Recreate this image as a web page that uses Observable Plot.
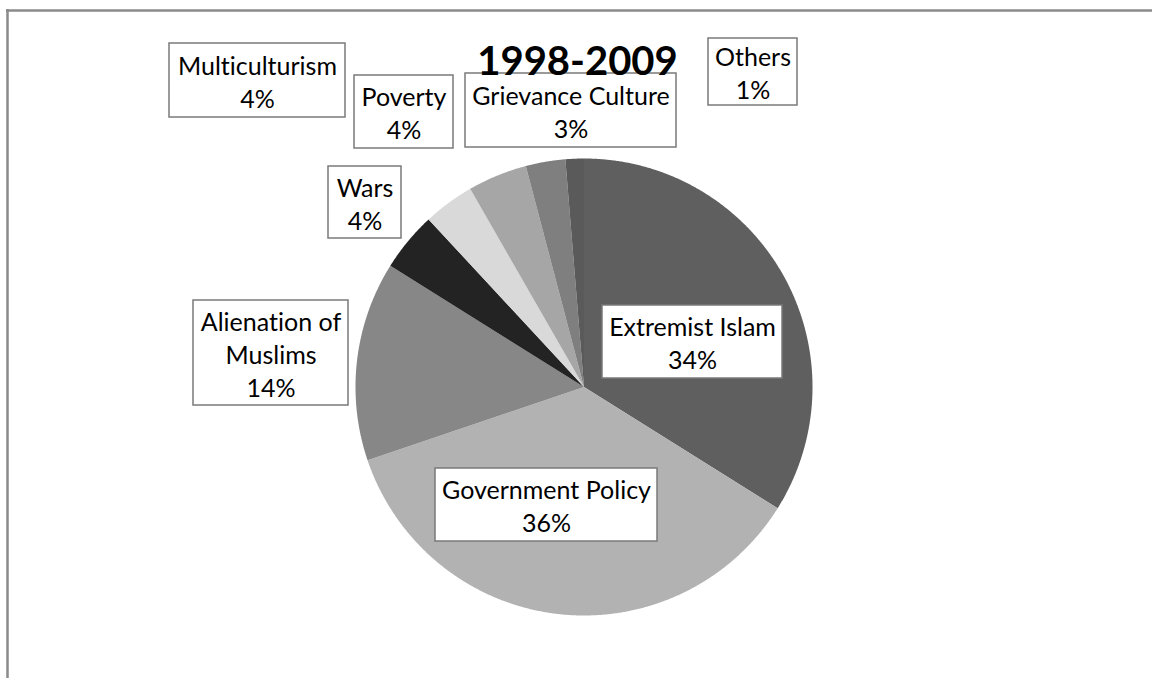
<!DOCTYPE html>
<html>
<head>
<meta charset="utf-8">
<script src="https://cdn.jsdelivr.net/npm/d3@7"></script>
<script src="https://cdn.jsdelivr.net/npm/@observablehq/plot@0.6"></script>
<style>
  html, body { margin: 0; padding: 0; background: #fff; }
  #chart svg { display: block; }
  #chart text { font-variant-ligatures: none; font-feature-settings: "liga" 0; }
</style>
</head>
<body>
<div id="chart"></div>
<script>
// ---- data ----
const title = "1998-2009";
const categories = ["Extremist Islam", "Government Policy", "Alienation of Muslims", "Wars", "Multiculturism", "Poverty", "Grievance Culture", "Others"];
const displayNames = ["Extremist Islam", "Government Policy", "Alienation of\nMuslims", "Wars", "Multiculturism", "Poverty", "Grievance Culture", "Others"];
const shares = [33.9, 35.9, 14.1, 4.2, 3.6, 4.2, 2.8, 1.3];

// ---- styles / layout ----
const sliceColors = ["#5f5f5f", "#b2b2b2", "#878787", "#232323", "#d9d9d9", "#a6a6a6", "#7f7f7f", "#5a5a5a"];
const W = 1152, H = 678;
const pieLayout = {cx: 583.5, cy: 386.5, r: 228.5};
// label boxes [x1, y1, x2, y2] in page pixels
const labelBoxes = [
  [602, 305, 782, 378],
  [435, 468, 657, 541],
  [193, 300, 348, 405],
  [328, 166, 401, 238],
  [169, 43, 345, 117],
  [354, 75, 453, 148],
  [465, 73, 676, 147],
  [708, 38, 797, 105]
];
const titlePos = {x: 577, y: 62};
const font = "Lato, 'Open Sans', sans-serif";

// ---- build slice outlines from the data ----
const arcs = d3.pie().sort(null).value(d => d)(shares);
const slicePts = [];
arcs.forEach((a, i) => {
  const name = categories[i];
  slicePts.push({name, x: pieLayout.cx, y: pieLayout.cy});
  const n = Math.max(2, Math.ceil((a.endAngle - a.startAngle) / 0.005));
  for (let k = 0; k <= n; k++) {
    const t = a.startAngle + (a.endAngle - a.startAngle) * k / n;
    slicePts.push({name, x: pieLayout.cx + pieLayout.r * Math.sin(t), y: pieLayout.cy - pieLayout.r * Math.cos(t)});
  }
});

const labels = categories.map((c, i) => ({
  name: c,
  text: displayNames[i] + "\n" + Math.round(shares[i]) + "%",
  x1: labelBoxes[i][0], y1: labelBoxes[i][1], x2: labelBoxes[i][2], y2: labelBoxes[i][3]
}));

const chart = Plot.plot({
  width: W,
  height: H,
  margin: 0,
  x: {domain: [0, W], range: [0, W], axis: null},
  y: {domain: [0, H], range: [0, H], axis: null},
  color: {domain: categories, range: sliceColors},
  marks: [
    Plot.line(slicePts, {x: "x", y: "y", z: "name", fill: "name", stroke: "none", curve: "linear-closed"}),
    Plot.rect(labels, {x1: "x1", x2: "x2", y1: "y1", y2: "y2", fill: "white", stroke: "#7a7a7a", strokeWidth: 1.5}),
    Plot.text(labels, {
      x: d => (d.x1 + d.x2) / 2, y: d => (d.y1 + d.y2) / 2,
      text: "text", fontSize: 25, lineHeight: 1.32, fill: "black", fontFamily: font, lineAnchor: "middle"
    }),
    Plot.text([title], {x: () => titlePos.x, y: () => titlePos.y, text: d => d, fontSize: 40, fontWeight: "bold", fill: "black", fontFamily: font, lineAnchor: "middle"}),
    Plot.ruleY([10], {x1: 6, x2: W, stroke: "#8a8a8a", strokeWidth: 2.5}),
    Plot.ruleX([7], {y1: 9, y2: H, stroke: "#8a8a8a", strokeWidth: 2.5})
  ]
});
document.getElementById("chart").appendChild(chart);
</script>
</body>
</html>
